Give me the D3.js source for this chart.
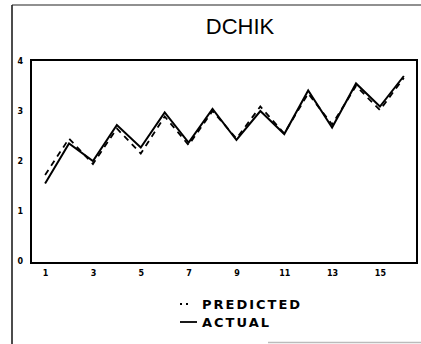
<!DOCTYPE html>
<html>
<head>
<meta charset="utf-8">
<script src="https://cdn.jsdelivr.net/npm/d3@7"></script>
<style>
  html, body { margin: 0; padding: 0; background: #fff; }
  svg { display: block; }
</style>
</head>
<body>
<svg id="chart" width="421" height="344"></svg>
<script>
// Observation index, 1..16
const periods = d3.range(1, 17);
// Actual DCHIK values
const actual = [1.55, 2.35, 2.0, 2.72, 2.27, 2.97, 2.37, 3.04, 2.42, 3.0, 2.54, 3.41, 2.67, 3.55, 3.09, 3.7];
// Model predictions
const predicted = [1.72, 2.45, 1.94, 2.65, 2.15, 2.89, 2.32, 3.0, 2.45, 3.09, 2.55, 3.35, 2.73, 3.5, 3.02, 3.66];
const xTicks = [1, 3, 5, 7, 9, 11, 13, 15];
const yTicks = [0, 1, 2, 3, 4];
const title = "DCHIK";
const legendLabels = ["PREDICTED", "ACTUAL"];

const svg = d3.select("#chart");
const box = { left: 31, right: 417, top: 60, bottom: 263 };

const x = d3.scaleLinear().domain([0.41, 16.55]).range([box.left, box.right]);
const y = d3.scaleLinear().domain([-0.04, 4.02]).range([box.bottom, box.top]);

// outer page frame
svg.append("line").attr("x1", 12).attr("x2", 12).attr("y1", 5).attr("y2", 344)
  .attr("stroke", "#111").attr("stroke-width", 1.5);
svg.append("line").attr("x1", 12).attr("x2", 421).attr("y1", 5).attr("y2", 5)
  .attr("stroke", "#222").attr("stroke-width", 1.2);
svg.append("line").attr("x1", 268).attr("x2", 421).attr("y1", 342.5).attr("y2", 342.5)
  .attr("stroke", "#bbb").attr("stroke-width", 1.5);

// title
svg.append("text").attr("x", 240).attr("y", 34).attr("text-anchor", "middle")
  .attr("font-family", "Liberation Sans, Arial, sans-serif").attr("font-size", 22)
  .attr("fill", "#000").text(title);

// plot frame
svg.append("rect").attr("x", box.left).attr("y", box.top)
  .attr("width", box.right - box.left).attr("height", box.bottom - box.top)
  .attr("fill", "none").attr("stroke", "#000").attr("stroke-width", 2);

// axes (labels only)
const yAxis = svg.append("g").attr("transform", `translate(${box.left},0)`)
  .call(d3.axisLeft(y).tickValues(yTicks).tickSize(0).tickPadding(8).tickFormat(d3.format("d")));
const xAxis = svg.append("g").attr("transform", `translate(0,${box.bottom})`)
  .call(d3.axisBottom(x).tickValues(xTicks).tickSize(0).tickPadding(7).tickFormat(d3.format("d")));
[xAxis, yAxis].forEach(g => {
  g.select(".domain").remove();
  g.selectAll("text").attr("font-family", "DejaVu Sans, sans-serif")
    .attr("font-size", 8).attr("font-weight", "bold").attr("fill", "#000");
});

const line = d3.line().x((d, i) => x(periods[i])).y(d => y(d));

svg.append("path").datum(predicted).attr("d", line)
  .attr("fill", "none").attr("stroke", "#000").attr("stroke-width", 1.8)
  .attr("stroke-dasharray", "6,5");
svg.append("path").datum(actual).attr("d", line)
  .attr("fill", "none").attr("stroke", "#000").attr("stroke-width", 2)
  .attr("stroke-linejoin", "miter");

// legend
const lg = svg.append("g").attr("font-family", "DejaVu Sans, sans-serif")
  .attr("font-size", 13).attr("font-weight", "bold").attr("letter-spacing", 2);
lg.append("line").attr("x1", 180).attr("x2", 188).attr("y1", 304).attr("y2", 304)
  .attr("stroke", "#000").attr("stroke-width", 1.8).attr("stroke-dasharray", "2,4");
lg.append("text").attr("x", 202).attr("y", 309).text(legendLabels[0]);
lg.append("line").attr("x1", 180).attr("x2", 197).attr("y1", 322).attr("y2", 322)
  .attr("stroke", "#000").attr("stroke-width", 1.8);
lg.append("text").attr("x", 202).attr("y", 327).text(legendLabels[1]);
</script>
</body>
</html>
